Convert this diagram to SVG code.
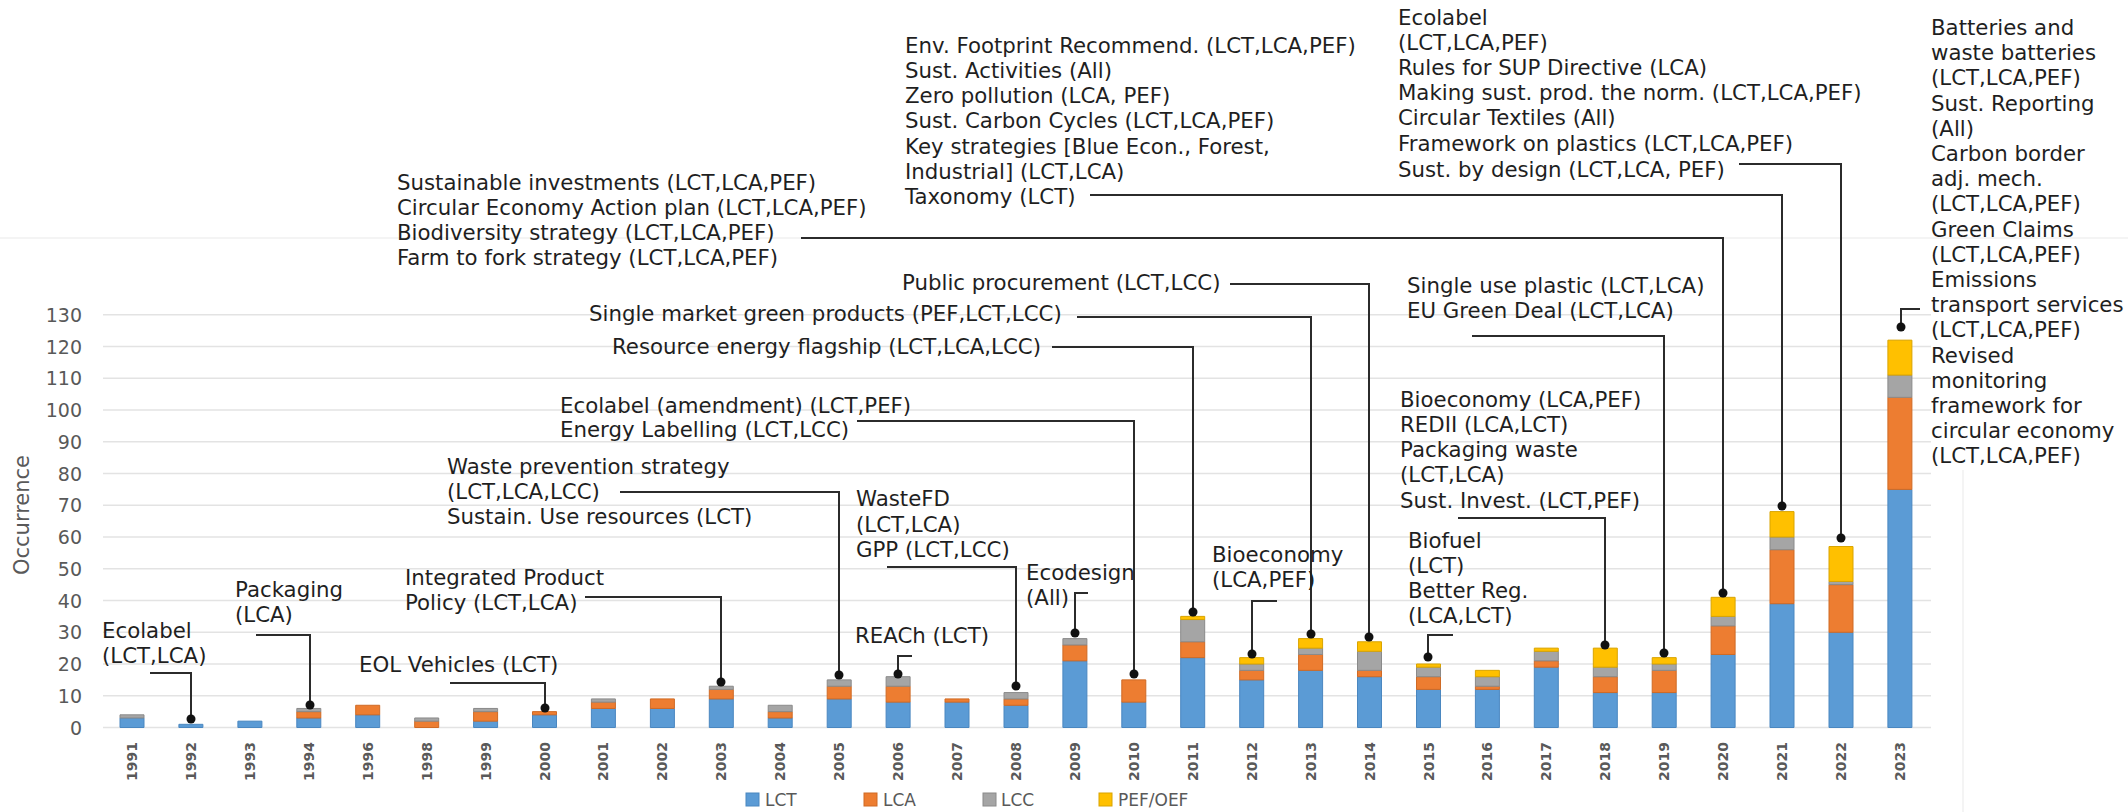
<svg xmlns="http://www.w3.org/2000/svg" width="2128" height="812" viewBox="0 0 2128 812">
<style>
.grid{stroke:#e3e3e3;stroke-width:1.5;fill:none}
.faint{stroke:#f0f0f0;stroke-width:1.5;fill:none}
.ax{font-family:"DejaVu Sans",Verdana,sans-serif;font-size:19px;fill:#595959;text-anchor:end}
.yr{font-family:"DejaVu Sans",Verdana,sans-serif;font-size:14px;font-weight:bold;fill:#595959;text-anchor:end}
.lg{font-family:"DejaVu Sans",Verdana,sans-serif;font-size:17px;fill:#595959}
.ann{font-family:"DejaVu Sans",Verdana,sans-serif;font-size:21.3px;fill:#1f1f1f}
.lct{fill:#5b9bd5;stroke:#4a87c0}
.lca{fill:#ed7d31;stroke:#cf6a25}
.lcc{fill:#a5a5a5;stroke:#8a8a8a}
.pef{fill:#ffc000;stroke:#d9a400}
.seg rect{stroke-width:1;vector-effect:non-scaling-stroke}
.con{fill:none;stroke:#2b2b2b;stroke-width:2}
.dot{fill:#111}
</style>

<g id="background">
<rect width="2128" height="812" fill="#ffffff"/>
<line class="faint" x1="0" y1="238" x2="2128" y2="238"/>
<line class="faint" x1="1963" y1="470" x2="1963" y2="812"/>
</g>

<g id="gridlines">
<line class="grid" x1="103" y1="727.5" x2="1931" y2="727.5"/>
<line class="grid" x1="103" y1="695.75" x2="1931" y2="695.75"/>
<line class="grid" x1="103" y1="664" x2="1931" y2="664"/>
<line class="grid" x1="103" y1="632.25" x2="1931" y2="632.25"/>
<line class="grid" x1="103" y1="600.5" x2="1931" y2="600.5"/>
<line class="grid" x1="103" y1="568.75" x2="1931" y2="568.75"/>
<line class="grid" x1="103" y1="537" x2="1931" y2="537"/>
<line class="grid" x1="103" y1="505.25" x2="1931" y2="505.25"/>
<line class="grid" x1="103" y1="473.5" x2="1931" y2="473.5"/>
<line class="grid" x1="103" y1="441.75" x2="1931" y2="441.75"/>
<line class="grid" x1="103" y1="410" x2="1931" y2="410"/>
<line class="grid" x1="103" y1="378.25" x2="1931" y2="378.25"/>
<line class="grid" x1="103" y1="346.5" x2="1931" y2="346.5"/>
<line class="grid" x1="103" y1="314.75" x2="1931" y2="314.75"/>
</g>

<g id="y-axis">
<text class="ax" x="82" y="734.5">0</text>
<text class="ax" x="82" y="702.75">10</text>
<text class="ax" x="82" y="671">20</text>
<text class="ax" x="82" y="639.25">30</text>
<text class="ax" x="82" y="607.5">40</text>
<text class="ax" x="82" y="575.75">50</text>
<text class="ax" x="82" y="544">60</text>
<text class="ax" x="82" y="512.25">70</text>
<text class="ax" x="82" y="480.5">80</text>
<text class="ax" x="82" y="448.75">90</text>
<text class="ax" x="82" y="417">100</text>
<text class="ax" x="82" y="385.25">110</text>
<text class="ax" x="82" y="353.5">120</text>
<text class="ax" x="82" y="321.75">130</text>
<text font-family="DejaVu Sans, Verdana, sans-serif" font-size="21" fill="#595959" text-anchor="middle" transform="translate(29,515) rotate(-90)">Occurrence</text>
</g>

<g id="bars" class="seg" transform="translate(0,727.5) scale(1,-3.175)">
<rect class="lct" x="120" y="0" width="24" height="3"/><rect class="lcc" x="120" y="3" width="24" height="1"/>
<rect class="lct" x="178.9" y="0" width="24" height="1"/>
<rect class="lct" x="237.9" y="0" width="24" height="2"/>
<rect class="lct" x="296.8" y="0" width="24" height="3"/><rect class="lca" x="296.8" y="3" width="24" height="2"/><rect class="lcc" x="296.8" y="5" width="24" height="1"/>
<rect class="lct" x="355.7" y="0" width="24" height="4"/><rect class="lca" x="355.7" y="4" width="24" height="3"/>
<rect class="lca" x="414.7" y="0" width="24" height="2"/><rect class="lcc" x="414.7" y="2" width="24" height="1"/>
<rect class="lct" x="473.6" y="0" width="24" height="2"/><rect class="lca" x="473.6" y="2" width="24" height="3"/><rect class="lcc" x="473.6" y="5" width="24" height="1"/>
<rect class="lct" x="532.5" y="0" width="24" height="4"/><rect class="lca" x="532.5" y="4" width="24" height="1"/>
<rect class="lct" x="591.4" y="0" width="24" height="6"/><rect class="lca" x="591.4" y="6" width="24" height="2"/><rect class="lcc" x="591.4" y="8" width="24" height="1"/>
<rect class="lct" x="650.4" y="0" width="24" height="6"/><rect class="lca" x="650.4" y="6" width="24" height="3"/>
<rect class="lct" x="709.3" y="0" width="24" height="9"/><rect class="lca" x="709.3" y="9" width="24" height="3"/><rect class="lcc" x="709.3" y="12" width="24" height="1"/>
<rect class="lct" x="768.2" y="0" width="24" height="3"/><rect class="lca" x="768.2" y="3" width="24" height="2"/><rect class="lcc" x="768.2" y="5" width="24" height="2"/>
<rect class="lct" x="827.2" y="0" width="24" height="9"/><rect class="lca" x="827.2" y="9" width="24" height="4"/><rect class="lcc" x="827.2" y="13" width="24" height="2"/>
<rect class="lct" x="886.1" y="0" width="24" height="8"/><rect class="lca" x="886.1" y="8" width="24" height="5"/><rect class="lcc" x="886.1" y="13" width="24" height="3"/>
<rect class="lct" x="945" y="0" width="24" height="8"/><rect class="lca" x="945" y="8" width="24" height="1"/>
<rect class="lct" x="1004" y="0" width="24" height="7"/><rect class="lca" x="1004" y="7" width="24" height="2"/><rect class="lcc" x="1004" y="9" width="24" height="2"/>
<rect class="lct" x="1062.9" y="0" width="24" height="21"/><rect class="lca" x="1062.9" y="21" width="24" height="5"/><rect class="lcc" x="1062.9" y="26" width="24" height="2"/>
<rect class="lct" x="1121.8" y="0" width="24" height="8"/><rect class="lca" x="1121.8" y="8" width="24" height="7"/>
<rect class="lct" x="1180.7" y="0" width="24" height="22"/><rect class="lca" x="1180.7" y="22" width="24" height="5"/><rect class="lcc" x="1180.7" y="27" width="24" height="7"/><rect class="pef" x="1180.7" y="34" width="24" height="1"/>
<rect class="lct" x="1239.7" y="0" width="24" height="15"/><rect class="lca" x="1239.7" y="15" width="24" height="3"/><rect class="lcc" x="1239.7" y="18" width="24" height="2"/><rect class="pef" x="1239.7" y="20" width="24" height="2"/>
<rect class="lct" x="1298.6" y="0" width="24" height="18"/><rect class="lca" x="1298.6" y="18" width="24" height="5"/><rect class="lcc" x="1298.6" y="23" width="24" height="2"/><rect class="pef" x="1298.6" y="25" width="24" height="3"/>
<rect class="lct" x="1357.5" y="0" width="24" height="16"/><rect class="lca" x="1357.5" y="16" width="24" height="2"/><rect class="lcc" x="1357.5" y="18" width="24" height="6"/><rect class="pef" x="1357.5" y="24" width="24" height="3"/>
<rect class="lct" x="1416.5" y="0" width="24" height="12"/><rect class="lca" x="1416.5" y="12" width="24" height="4"/><rect class="lcc" x="1416.5" y="16" width="24" height="3"/><rect class="pef" x="1416.5" y="19" width="24" height="1"/>
<rect class="lct" x="1475.4" y="0" width="24" height="12"/><rect class="lca" x="1475.4" y="12" width="24" height="1"/><rect class="lcc" x="1475.4" y="13" width="24" height="3"/><rect class="pef" x="1475.4" y="16" width="24" height="2"/>
<rect class="lct" x="1534.3" y="0" width="24" height="19"/><rect class="lca" x="1534.3" y="19" width="24" height="2"/><rect class="lcc" x="1534.3" y="21" width="24" height="3"/><rect class="pef" x="1534.3" y="24" width="24" height="1"/>
<rect class="lct" x="1593.3" y="0" width="24" height="11"/><rect class="lca" x="1593.3" y="11" width="24" height="5"/><rect class="lcc" x="1593.3" y="16" width="24" height="3"/><rect class="pef" x="1593.3" y="19" width="24" height="6"/>
<rect class="lct" x="1652.2" y="0" width="24" height="11"/><rect class="lca" x="1652.2" y="11" width="24" height="7"/><rect class="lcc" x="1652.2" y="18" width="24" height="2"/><rect class="pef" x="1652.2" y="20" width="24" height="2"/>
<rect class="lct" x="1711.1" y="0" width="24" height="23"/><rect class="lca" x="1711.1" y="23" width="24" height="9"/><rect class="lcc" x="1711.1" y="32" width="24" height="3"/><rect class="pef" x="1711.1" y="35" width="24" height="6"/>
<rect class="lct" x="1770" y="0" width="24" height="39"/><rect class="lca" x="1770" y="39" width="24" height="17"/><rect class="lcc" x="1770" y="56" width="24" height="4"/><rect class="pef" x="1770" y="60" width="24" height="8"/>
<rect class="lct" x="1829" y="0" width="24" height="30"/><rect class="lca" x="1829" y="30" width="24" height="15"/><rect class="lcc" x="1829" y="45" width="24" height="1"/><rect class="pef" x="1829" y="46" width="24" height="11"/>
<rect class="lct" x="1887.9" y="0" width="24" height="75"/><rect class="lca" x="1887.9" y="75" width="24" height="29"/><rect class="lcc" x="1887.9" y="104" width="24" height="7"/><rect class="pef" x="1887.9" y="111" width="24" height="11"/>
</g>

<g id="x-axis">
<text class="yr" transform="translate(137,742) rotate(-90)">1991</text>
<text class="yr" transform="translate(195.9,742) rotate(-90)">1992</text>
<text class="yr" transform="translate(254.9,742) rotate(-90)">1993</text>
<text class="yr" transform="translate(313.8,742) rotate(-90)">1994</text>
<text class="yr" transform="translate(372.7,742) rotate(-90)">1996</text>
<text class="yr" transform="translate(431.7,742) rotate(-90)">1998</text>
<text class="yr" transform="translate(490.6,742) rotate(-90)">1999</text>
<text class="yr" transform="translate(549.5,742) rotate(-90)">2000</text>
<text class="yr" transform="translate(608.4,742) rotate(-90)">2001</text>
<text class="yr" transform="translate(667.4,742) rotate(-90)">2002</text>
<text class="yr" transform="translate(726.3,742) rotate(-90)">2003</text>
<text class="yr" transform="translate(785.2,742) rotate(-90)">2004</text>
<text class="yr" transform="translate(844.2,742) rotate(-90)">2005</text>
<text class="yr" transform="translate(903.1,742) rotate(-90)">2006</text>
<text class="yr" transform="translate(962,742) rotate(-90)">2007</text>
<text class="yr" transform="translate(1021,742) rotate(-90)">2008</text>
<text class="yr" transform="translate(1079.9,742) rotate(-90)">2009</text>
<text class="yr" transform="translate(1138.8,742) rotate(-90)">2010</text>
<text class="yr" transform="translate(1197.7,742) rotate(-90)">2011</text>
<text class="yr" transform="translate(1256.7,742) rotate(-90)">2012</text>
<text class="yr" transform="translate(1315.6,742) rotate(-90)">2013</text>
<text class="yr" transform="translate(1374.5,742) rotate(-90)">2014</text>
<text class="yr" transform="translate(1433.5,742) rotate(-90)">2015</text>
<text class="yr" transform="translate(1492.4,742) rotate(-90)">2016</text>
<text class="yr" transform="translate(1551.3,742) rotate(-90)">2017</text>
<text class="yr" transform="translate(1610.3,742) rotate(-90)">2018</text>
<text class="yr" transform="translate(1669.2,742) rotate(-90)">2019</text>
<text class="yr" transform="translate(1728.1,742) rotate(-90)">2020</text>
<text class="yr" transform="translate(1787,742) rotate(-90)">2021</text>
<text class="yr" transform="translate(1846,742) rotate(-90)">2022</text>
<text class="yr" transform="translate(1904.9,742) rotate(-90)">2023</text>
</g>

<g id="legend">
<rect class="lct" x="746" y="793" width="13" height="13"/><text class="lg" x="765" y="806">LCT</text>
<rect class="lca" x="864" y="793" width="13" height="13"/><text class="lg" x="883" y="806">LCA</text>
<rect class="lcc" x="983" y="793" width="13" height="13"/><text class="lg" x="1001" y="806">LCC</text>
<rect class="pef" x="1099" y="793" width="13" height="13"/><text class="lg" x="1118" y="806">PEF/OEF</text>
</g>

<g id="connectors">
<path class="con" d="M150,673 H191 V719"/><circle class="dot" cx="191" cy="719" r="4.5"/>
<path class="con" d="M256,635 H310 V705"/><circle class="dot" cx="310" cy="705" r="4.5"/>
<path class="con" d="M450,683 H545 V708"/><circle class="dot" cx="545" cy="708" r="4.5"/>
<path class="con" d="M585,597 H721 V682"/><circle class="dot" cx="721" cy="682" r="4.5"/>
<path class="con" d="M620,492 H839 V675"/><circle class="dot" cx="839" cy="675" r="4.5"/>
<path class="con" d="M912,656 H898 V674"/><circle class="dot" cx="898" cy="674" r="4.5"/>
<path class="con" d="M887,567 H1016 V686"/><circle class="dot" cx="1016" cy="686" r="4.5"/>
<path class="con" d="M1088,593 H1075 V633"/><circle class="dot" cx="1075" cy="633" r="4.5"/>
<path class="con" d="M857,421 H1134 V674"/><circle class="dot" cx="1134" cy="674" r="4.5"/>
<path class="con" d="M1052,347 H1193 V612"/><circle class="dot" cx="1193" cy="612" r="4.5"/>
<path class="con" d="M1277,601 H1252 V654"/><circle class="dot" cx="1252" cy="654" r="4.5"/>
<path class="con" d="M1077,317 H1311 V634"/><circle class="dot" cx="1311" cy="634" r="4.5"/>
<path class="con" d="M1230,284 H1369 V637"/><circle class="dot" cx="1369" cy="637" r="4.5"/>
<path class="con" d="M1453,635 H1428 V657"/><circle class="dot" cx="1428" cy="657" r="4.5"/>
<path class="con" d="M1458,518 H1605 V645"/><circle class="dot" cx="1605" cy="645" r="4.5"/>
<path class="con" d="M1472,336 H1664 V653"/><circle class="dot" cx="1664" cy="653" r="4.5"/>
<path class="con" d="M801,238 H1723 V593"/><circle class="dot" cx="1723" cy="593" r="4.5"/>
<path class="con" d="M1090,195 H1782 V506"/><circle class="dot" cx="1782" cy="506" r="4.5"/>
<path class="con" d="M1739,164 H1841 V538"/><circle class="dot" cx="1841" cy="538" r="4.5"/>
<path class="con" d="M1920,309 H1901 V325"/><circle class="dot" cx="1901" cy="327" r="4.5"/>
</g>

<g id="ann-1992"><text class="ann" x="102" y="638">Ecolabel</text><text class="ann" x="102" y="663">(LCT,LCA)</text></g>
<g id="ann-1994"><text class="ann" x="235" y="597">Packaging</text><text class="ann" x="235" y="622">(LCA)</text></g>
<g id="ann-2000"><text class="ann" x="359" y="672">EOL Vehicles (LCT)</text></g>
<g id="ann-2003"><text class="ann" x="405" y="585">Integrated Product</text><text class="ann" x="405" y="610">Policy (LCT,LCA)</text></g>
<g id="ann-2005"><text class="ann" x="447" y="474">Waste prevention strategy</text><text class="ann" x="447" y="499">(LCT,LCA,LCC)</text><text class="ann" x="447" y="524">Sustain. Use resources (LCT)</text></g>
<g id="ann-2006"><text class="ann" x="855" y="643">REACh (LCT)</text></g>
<g id="ann-2008"><text class="ann" x="856" y="506">WasteFD</text><text class="ann" x="856" y="532">(LCT,LCA)</text><text class="ann" x="856" y="557">GPP (LCT,LCC)</text></g>
<g id="ann-2009"><text class="ann" x="1026" y="580">Ecodesign</text><text class="ann" x="1026" y="605">(All)</text></g>
<g id="ann-2010"><text class="ann" x="560" y="413">Ecolabel (amendment) (LCT,PEF)</text><text class="ann" x="560" y="437">Energy Labelling (LCT,LCC)</text></g>
<g id="ann-2011"><text class="ann" x="612" y="354">Resource energy flagship (LCT,LCA,LCC)</text></g>
<g id="ann-2012"><text class="ann" x="1212" y="562">Bioeconomy</text><text class="ann" x="1212" y="587">(LCA,PEF)</text></g>
<g id="ann-2013"><text class="ann" x="589" y="321">Single market green products (PEF,LCT,LCC)</text></g>
<g id="ann-2014"><text class="ann" x="902" y="290">Public procurement (LCT,LCC)</text></g>
<g id="ann-2015"><text class="ann" x="1408" y="548">Biofuel</text><text class="ann" x="1408" y="573">(LCT)</text><text class="ann" x="1408" y="598">Better Reg.</text><text class="ann" x="1408" y="623">(LCA,LCT)</text></g>
<g id="ann-2018"><text class="ann" x="1400" y="407">Bioeconomy (LCA,PEF)</text><text class="ann" x="1400" y="432">REDII (LCA,LCT)</text><text class="ann" x="1400" y="457">Packaging waste</text><text class="ann" x="1400" y="482">(LCT,LCA)</text><text class="ann" x="1400" y="508">Sust. Invest. (LCT,PEF)</text></g>
<g id="ann-2019"><text class="ann" x="1407" y="293">Single use plastic (LCT,LCA)</text><text class="ann" x="1407" y="318">EU Green Deal (LCT,LCA)</text></g>
<g id="ann-2020"><text class="ann" x="397" y="190">Sustainable investments (LCT,LCA,PEF)</text><text class="ann" x="397" y="215">Circular Economy Action plan (LCT,LCA,PEF)</text><text class="ann" x="397" y="240">Biodiversity strategy (LCT,LCA,PEF)</text><text class="ann" x="397" y="265">Farm to fork strategy (LCT,LCA,PEF)</text></g>
<g id="ann-2021"><text class="ann" x="905" y="53">Env. Footprint Recommend. (LCT,LCA,PEF)</text><text class="ann" x="905" y="78">Sust. Activities (All)</text><text class="ann" x="905" y="103">Zero pollution (LCA, PEF)</text><text class="ann" x="905" y="128">Sust. Carbon Cycles (LCT,LCA,PEF)</text><text class="ann" x="905" y="154">Key strategies [Blue Econ., Forest,</text><text class="ann" x="905" y="179">Industrial] (LCT,LCA)</text><text class="ann" x="905" y="204">Taxonomy (LCT)</text></g>
<g id="ann-2022"><text class="ann" x="1398" y="25">Ecolabel</text><text class="ann" x="1398" y="50">(LCT,LCA,PEF)</text><text class="ann" x="1398" y="75">Rules for SUP Directive (LCA)</text><text class="ann" x="1398" y="100">Making sust. prod. the norm. (LCT,LCA,PEF)</text><text class="ann" x="1398" y="125">Circular Textiles (All)</text><text class="ann" x="1398" y="151">Framework on plastics (LCT,LCA,PEF)</text><text class="ann" x="1398" y="177">Sust. by design (LCT,LCA, PEF)</text></g>
<g id="ann-2023">
<text class="ann" x="1931" y="35">Batteries and</text>
<text class="ann" x="1931" y="60.2">waste batteries</text>
<text class="ann" x="1931" y="85.4">(LCT,LCA,PEF)</text>
<text class="ann" x="1931" y="110.6">Sust. Reporting</text>
<text class="ann" x="1931" y="135.8">(All)</text>
<text class="ann" x="1931" y="161">Carbon border</text>
<text class="ann" x="1931" y="186.2">adj. mech.</text>
<text class="ann" x="1931" y="211.4">(LCT,LCA,PEF)</text>
<text class="ann" x="1931" y="236.6">Green Claims</text>
<text class="ann" x="1931" y="261.8">(LCT,LCA,PEF)</text>
<text class="ann" x="1931" y="287">Emissions</text>
<text class="ann" x="1931" y="312.2">transport services</text>
<text class="ann" x="1931" y="337.4">(LCT,LCA,PEF)</text>
<text class="ann" x="1931" y="362.6">Revised</text>
<text class="ann" x="1931" y="387.8">monitoring</text>
<text class="ann" x="1931" y="413">framework for</text>
<text class="ann" x="1931" y="438.2">circular economy</text>
<text class="ann" x="1931" y="463.4">(LCT,LCA,PEF)</text>
</g>
</svg>
